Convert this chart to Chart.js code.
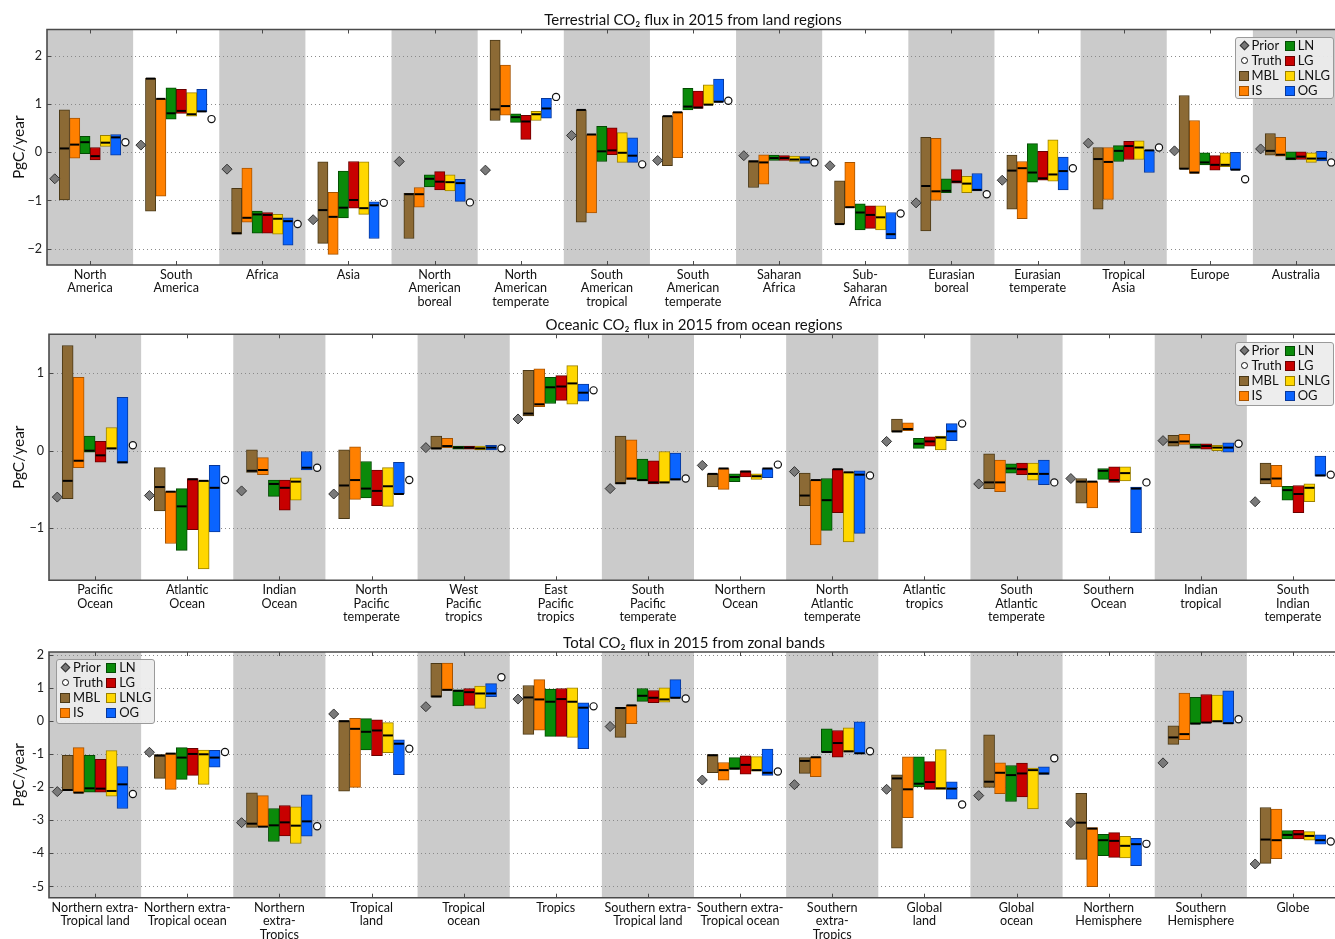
<!DOCTYPE html>
<html>
<head>
<meta charset="utf-8">
<script src="https://cdn.jsdelivr.net/npm/chart.js@4.4.0/dist/chart.umd.min.js"></script>
<style>
  html, body { margin: 0; padding: 0; width: 1335px; height: 939px; overflow: hidden; background: #fff; }
  body { position: relative; }
  .panel { position: absolute; left: 0; }
  .legend {
    position: absolute; box-sizing: border-box;
    background: rgba(236, 236, 236, 0.93); border: 1px solid #9a9a9a; border-radius: 3px;
    display: grid; grid-template-columns: auto auto; grid-auto-flow: column;
    grid-template-rows: repeat(4, 15px); column-gap: 3px; padding: 0 3px 0 3px;
    font-family: Lato, sans-serif; font-size: 13px; color: #111; line-height: 15px;
  }
  .legend .item { display: flex; align-items: center; white-space: nowrap; }
  .legend .mk { width: 10px; height: 10px; box-sizing: border-box; margin-right: 3px; flex: none; }
  .legend .dia { width: 7px; height: 7px; margin: 0 4px 0 2px; background: #777; border: 1px solid #333; transform: rotate(45deg); box-sizing: border-box; flex: none; }
  .legend .cir { width: 7px; height: 7px; margin: 0 4px 0 2px; background: #fff; border: 1.2px solid #111; border-radius: 50%; box-sizing: border-box; flex: none; }
</style>
</head>
<body>
<div class="panel" style="top:0px"><canvas id="landChart" width="1345" height="310"></canvas></div>
<div class="panel" style="top:310px"><canvas id="oceanChart" width="1345" height="317"></canvas></div>
<div class="panel" style="top:627px"><canvas id="zonalChart" width="1345" height="312"></canvas></div>

<script>
// ---------------- Terrestrial (land regions) ----------------
const landRegions = [
  ['North', 'America'], ['South', 'America'], ['Africa'], ['Asia'],
  ['North', 'American', 'boreal'], ['North', 'American', 'temperate'],
  ['South', 'American', 'tropical'], ['South', 'American', 'temperate'],
  ['Saharan', 'Africa'], ['Sub-', 'Saharan', 'Africa'],
  ['Eurasian', 'boreal'], ['Eurasian', 'temperate'], ['Tropical', 'Asia'],
  ['Europe'], ['Australia']
];
const landPrior = [-0.55, 0.15, -0.35, -1.40, -0.19, -0.37, 0.35, -0.17, -0.07, -0.28, -1.05, -0.58, 0.19, 0.03, 0.07];
const landTruth = [0.21, 0.69, -1.49, -1.05, -1.04, 1.15, -0.25, 1.07, -0.21, -1.27, -0.87, -0.33, 0.10, -0.56, -0.21];
// each entry: [minimum, maximum, mean]
const landMBL = [[-0.99, 0.88, 0.08], [-1.22, 1.54, 1.53], [-1.70, -0.75, -1.68], [-1.89, -0.20, -1.20], [-1.79, -0.85, -0.87],
  [0.66, 2.33, 0.89], [-1.45, 0.88, 0.88], [-0.28, 0.75, 0.75], [-0.73, -0.17, -0.19], [-1.49, -0.59, -1.49],
  [-1.63, 0.31, -0.70], [-1.18, -0.06, -0.38], [-1.18, 0.10, -0.14], [-0.35, 1.18, -0.34], [-0.06, 0.39, 0.03]];
const landIS = [[-0.12, 0.71, 0.16], [-0.91, 1.11, 1.11], [-1.45, -0.33, -1.36], [-2.12, -0.83, -1.34], [-1.14, -0.73, -0.87],
  [0.77, 1.81, 0.96], [-1.26, 0.37, 0.37], [-0.11, 0.83, 0.83], [-0.66, -0.05, -0.21], [-1.15, -0.21, -1.14],
  [-1.00, 0.29, -0.81], [-1.38, -0.19, -0.33], [-0.98, 0.10, -0.20], [-0.44, 0.66, -0.42], [-0.08, 0.31, -0.05]];
const landLN = [[-0.03, 0.33, 0.21], [0.69, 1.34, 0.81], [-1.68, -1.22, -1.29], [-1.36, -0.39, -1.15], [-0.72, -0.47, -0.55],
  [0.62, 0.80, 0.73], [-0.19, 0.54, 0.02], [0.88, 1.33, 0.95], [-0.17, -0.06, -0.12], [-1.61, -1.07, -1.25],
  [-0.84, -0.55, -0.80], [-0.62, 0.18, -0.42], [-0.19, 0.14, 0.03], [-0.26, -0.01, -0.21], [-0.16, 0.01, -0.13]];
const landLG = [[-0.16, 0.10, -0.08], [0.81, 1.31, 0.86], [-1.68, -1.25, -1.30], [-1.16, -0.19, -0.99], [-0.78, -0.40, -0.61],
  [0.27, 0.77, 0.64], [-0.05, 0.51, 0.04], [0.91, 1.27, 0.93], [-0.17, -0.07, -0.12], [-1.58, -1.11, -1.30],
  [-0.64, -0.36, -0.61], [-0.58, 0.02, -0.54], [-0.15, 0.23, 0.13], [-0.37, -0.07, -0.26], [-0.15, 0.01, -0.09]];
const landLNLG = [[0.12, 0.35, 0.20], [0.75, 1.24, 0.79], [-1.70, -1.29, -1.38], [-1.29, -0.20, -1.16], [-0.80, -0.47, -0.62],
  [0.66, 0.85, 0.79], [-0.21, 0.41, -0.01], [0.98, 1.40, 0.99], [-0.19, -0.08, -0.15], [-1.61, -1.11, -1.35],
  [-0.84, -0.50, -0.65], [-0.60, 0.26, -0.46], [-0.15, 0.24, 0.10], [-0.30, -0.01, -0.26], [-0.21, -0.01, -0.13]];
const landOG = [[-0.06, 0.37, 0.31], [0.84, 1.31, 0.85], [-1.93, -1.36, -1.43], [-1.79, -1.03, -1.10], [-1.02, -0.56, -0.64],
  [0.71, 1.12, 0.91], [-0.21, 0.30, -0.07], [1.04, 1.52, 1.05], [-0.23, -0.09, -0.15], [-1.80, -1.25, -1.70],
  [-0.80, -0.44, -0.78], [-0.78, -0.10, -0.39], [-0.42, 0.04, 0.04], [-0.37, 0.00, -0.36], [-0.18, 0.02, -0.13]];
const landTicks = [-2, -1, 0, 1, 2];

// ---------------- Oceanic (ocean regions) ----------------
const oceanRegions = [
  ['Pacific', 'Ocean'], ['Atlantic', 'Ocean'], ['Indian', 'Ocean'], ['North', 'Pacific', 'temperate'],
  ['West', 'Pacific', 'tropics'], ['East', 'Pacific', 'tropics'], ['South', 'Pacific', 'temperate'],
  ['Northern', 'Ocean'], ['North', 'Atlantic', 'temperate'], ['Atlantic', 'tropics'],
  ['South', 'Atlantic', 'temperate'], ['Southern', 'Ocean'], ['Indian', 'tropical'], ['South', 'Indian', 'temperate']
];
const oceanPrior = [-0.60, -0.58, -0.52, -0.56, 0.04, 0.41, -0.49, -0.19, -0.27, 0.12, -0.43, -0.36, 0.13, -0.66];
const oceanTruth = [0.07, -0.38, -0.22, -0.38, 0.03, 0.78, -0.36, -0.18, -0.32, 0.35, -0.41, -0.41, 0.09, -0.31];
const oceanMBL = [[-0.62, 1.36, -0.39], [-0.78, -0.22, -0.47], [-0.28, 0.01, -0.26], [-0.88, 0.01, -0.45], [0.02, 0.19, 0.03],
  [0.45, 1.04, 0.48], [-0.43, 0.19, -0.42], [-0.47, -0.30, -0.30], [-0.71, -0.29, -0.58], [0.24, 0.41, 0.25],
  [-0.49, -0.04, -0.41], [-0.68, -0.36, -0.40], [0.06, 0.20, 0.11], [-0.43, -0.16, -0.37]];
const oceanIS = [[-0.22, 0.95, -0.13], [-1.20, -0.53, -0.53], [-0.31, -0.09, -0.25], [-0.63, 0.05, -0.38], [0.04, 0.16, 0.06],
  [0.57, 1.06, 0.60], [-0.37, 0.14, -0.36], [-0.50, -0.23, -0.23], [-1.22, -0.38, -0.38], [0.26, 0.36, 0.28],
  [-0.53, -0.12, -0.41], [-0.74, -0.40, -0.40], [0.08, 0.21, 0.12], [-0.47, -0.19, -0.36]];
const oceanLN = [[-0.02, 0.19, 0.00], [-1.29, -0.49, -0.72], [-0.59, -0.38, -0.43], [-0.61, -0.14, -0.49], [0.02, 0.06, 0.04],
  [0.61, 0.95, 0.82], [-0.39, -0.11, -0.38], [-0.40, -0.30, -0.34], [-1.03, -0.36, -0.64], [0.03, 0.16, 0.09],
  [-0.29, -0.17, -0.23], [-0.37, -0.23, -0.26], [0.03, 0.09, 0.05], [-0.64, -0.46, -0.51]];
const oceanLG = [[-0.15, 0.12, -0.06], [-1.02, -0.36, -0.37], [-0.77, -0.38, -0.48], [-0.71, -0.25, -0.52], [0.02, 0.06, 0.04],
  [0.65, 0.97, 0.83], [-0.43, -0.13, -0.41], [-0.34, -0.26, -0.27], [-0.80, -0.24, -0.24], [0.06, 0.18, 0.12],
  [-0.31, -0.16, -0.24], [-0.41, -0.21, -0.38], [0.02, 0.09, 0.06], [-0.80, -0.45, -0.56]];
const oceanLNLG = [[0.02, 0.30, 0.03], [-1.53, -0.39, -0.39], [-0.64, -0.35, -0.40], [-0.72, -0.22, -0.46], [0.01, 0.06, 0.03],
  [0.60, 1.10, 0.87], [-0.42, -0.01, -0.41], [-0.37, -0.30, -0.33], [-1.18, -0.28, -0.28], [0.01, 0.19, 0.17],
  [-0.38, -0.16, -0.30], [-0.39, -0.21, -0.29], [0.00, 0.07, 0.04], [-0.66, -0.43, -0.48]];
const oceanOG = [[-0.16, 0.69, -0.15], [-1.05, -0.19, -0.48], [-0.25, -0.01, -0.22], [-0.56, -0.15, -0.56], [0.01, 0.07, 0.04],
  [0.64, 0.86, 0.75], [-0.38, -0.03, -0.37], [-0.35, -0.23, -0.23], [-1.07, -0.26, -0.31], [0.13, 0.35, 0.25],
  [-0.44, -0.12, -0.30], [-1.06, -0.47, -0.49], [-0.02, 0.10, 0.04], [-0.33, -0.07, -0.32]];
const oceanTicks = [-1, 0, 1];

// ---------------- Total (zonal bands) ----------------
const zonalBands = [
  ['Northern extra-', 'Tropical land'], ['Northern extra-', 'Tropical ocean'], ['Northern', 'extra-', 'Tropics'],
  ['Tropical', 'land'], ['Tropical', 'ocean'], ['Tropics'],
  ['Southern extra-', 'Tropical land'], ['Southern extra-', 'Tropical ocean'], ['Southern', 'extra-', 'Tropics'],
  ['Global', 'land'], ['Global', 'ocean'], ['Northern', 'Hemisphere'], ['Southern', 'Hemisphere'], ['Globe']
];
const zonalPrior = [-2.13, -0.94, -3.07, 0.22, 0.44, 0.67, -0.16, -1.78, -1.92, -2.06, -2.25, -3.07, -1.26, -4.32];
const zonalTruth = [-2.20, -0.93, -3.18, -0.83, 1.33, 0.45, 0.69, -1.52, -0.91, -2.52, -1.12, -3.71, 0.06, -3.64];
const zonalMBL = [[-2.10, -1.03, -2.08], [-1.73, -1.01, -1.04], [-3.21, -2.17, -3.10], [-2.12, 0.02, 0.00], [0.73, 1.75, 0.75],
  [-0.40, 1.08, 0.72], [-0.49, 0.42, 0.40], [-1.56, -1.01, -1.03], [-1.58, -1.10, -1.20], [-3.84, -1.62, -1.73],
  [-2.00, -0.41, -1.83], [-4.18, -2.18, -3.07], [-0.70, -0.14, -0.49], [-4.30, -2.61, -3.58]];
const zonalIS = [[-2.18, -0.80, -2.16], [-2.06, -0.98, -0.98], [-3.20, -2.25, -3.19], [-2.00, 0.09, -0.23], [0.93, 1.76, 0.95],
  [-0.27, 1.26, 0.66], [-0.07, 0.48, 0.48], [-1.78, -1.25, -1.48], [-1.68, -1.09, -1.09], [-2.92, -1.08, -2.06],
  [-2.19, -1.26, -1.56], [-5.01, -3.22, -3.25], [-0.56, 0.85, -0.39], [-4.16, -2.66, -3.60]];
const zonalLN = [[-2.15, -1.03, -2.03], [-1.76, -0.80, -1.10], [-3.64, -2.64, -3.15], [-0.87, 0.08, -0.32], [0.46, 0.95, 0.92],
  [-0.46, 0.97, 0.59], [0.60, 0.99, 0.77], [-1.46, -1.10, -1.43], [-0.94, -0.23, -0.93], [-1.99, -1.08, -1.89],
  [-2.43, -1.34, -1.63], [-4.07, -3.42, -3.60], [-0.09, 0.72, -0.07], [-3.56, -3.31, -3.44]];
const zonalLG = [[-2.15, -1.15, -2.04], [-1.64, -0.82, -0.99], [-3.47, -2.55, -3.06], [-1.04, 0.04, -0.28], [0.48, 0.99, 0.88],
  [-0.46, 0.99, 0.67], [0.56, 0.93, 0.71], [-1.60, -1.05, -1.32], [-1.09, -0.28, -0.66], [-2.06, -1.22, -1.84],
  [-2.29, -1.27, -1.58], [-4.12, -3.37, -3.62], [-0.05, 0.81, -0.04], [-3.56, -3.30, -3.42]];
const zonalLNLG = [[-2.27, -0.89, -2.11], [-1.91, -0.87, -1.00], [-3.70, -2.59, -3.16], [-0.95, -0.04, -0.43], [0.39, 1.06, 0.84],
  [-0.49, 1.01, 0.59], [0.58, 1.01, 0.66], [-1.51, -1.07, -1.48], [-0.93, -0.20, -0.91], [-2.06, -0.86, -2.03],
  [-2.65, -1.42, -1.48], [-4.14, -3.48, -3.77], [-0.02, 0.79, 0.00], [-3.60, -3.34, -3.47]];
const zonalOG = [[-2.64, -1.37, -1.91], [-1.39, -0.88, -1.10], [-3.48, -2.23, -3.03], [-1.62, -0.56, -0.68], [0.74, 1.14, 0.84],
  [-0.83, 0.56, 0.41], [0.70, 1.26, 0.71], [-1.64, -0.84, -1.56], [-0.99, -0.02, -0.97], [-2.36, -1.83, -2.04],
  [-1.61, -1.38, -1.58], [-4.37, -3.54, -3.72], [-0.07, 0.92, -0.06], [-3.72, -3.44, -3.60]];
const zonalTicks = [-5, -4, -3, -2, -1, 0, 1, 2];

// ---------------- styling ----------------
const seriesNames = ['MBL', 'IS', 'LN', 'LG', 'LNLG', 'OG'];
const seriesFill = ['#8c6a35', '#ff8000', '#0a8a0a', '#c80000', '#ffd700', '#0a64ff'];
const seriesEdge = ['#4a3816', '#a65300', '#034a03', '#6a0000', '#9a8000', '#08389a'];
const FONT = 'Lato, "Open Sans", sans-serif';
const GROUP_SPAN = 0.714;          // fraction of a region column taken by the six bars
const SLOT = GROUP_SPAN / 6;       // one bar slot, in region units

// shaded columns, dotted grid, mean markers, axes frame and tick marks
const panelDeco = {
  id: 'panelDeco',
  beforeDatasetsDraw(chart) {
    const { ctx, chartArea: a, scales } = chart;
    const x = scales.x, y = scales.y;
    const n = chart.data.labels.length;
    const w = (a.right - a.left) / n;
    ctx.save();
    ctx.fillStyle = '#cbcbcb';
    for (let i = 0; i < n; i += 2) {
      ctx.fillRect(x.getPixelForValue(i) - w / 2, a.top, w, a.bottom - a.top);
    }
    ctx.strokeStyle = '#8a8a8a';
    ctx.lineWidth = 1;
    ctx.setLineDash([1, 3]);
    y.ticks.forEach(t => {
      const py = Math.round(y.getPixelForValue(t.value)) + 0.5;
      ctx.beginPath(); ctx.moveTo(a.left, py); ctx.lineTo(a.right, py); ctx.stroke();
    });
    ctx.restore();
  },
  afterDatasetsDraw(chart) {
    const { ctx, scales: { y } } = chart;
    ctx.save();
    ctx.strokeStyle = '#000';
    ctx.lineWidth = 2;
    chart.data.datasets.forEach((ds, di) => {
      if (!ds.means) return;
      const meta = chart.getDatasetMeta(di);
      meta.data.forEach((bar, i) => {
        const py = y.getPixelForValue(ds.means[i]);
        ctx.beginPath();
        ctx.moveTo(bar.x - bar.width / 2 + 0.5, py);
        ctx.lineTo(bar.x + bar.width / 2 - 0.5, py);
        ctx.stroke();
      });
    });
    ctx.restore();
  },
  afterDraw(chart) {
    const { ctx, chartArea: a, scales: { x, y } } = chart;
    const n = chart.data.labels.length;
    ctx.save();
    ctx.strokeStyle = '#4a4a4a';
    ctx.lineWidth = 1;
    for (let i = 0; i < n; i++) {
      const px = Math.round(x.getPixelForValue(i)) + 0.5;
      ctx.beginPath(); ctx.moveTo(px, a.top); ctx.lineTo(px, a.top + 4); ctx.stroke();
      ctx.beginPath(); ctx.moveTo(px, a.bottom); ctx.lineTo(px, a.bottom - 4); ctx.stroke();
    }
    y.ticks.forEach(t => {
      const py = Math.round(y.getPixelForValue(t.value)) + 0.5;
      ctx.beginPath(); ctx.moveTo(a.left, py); ctx.lineTo(a.left + 4, py); ctx.stroke();
    });
    ctx.lineWidth = 1.6;
    ctx.beginPath();
    ctx.moveTo(a.right + 5, a.top); ctx.lineTo(a.left, a.top); ctx.lineTo(a.left, a.bottom); ctx.lineTo(a.right + 5, a.bottom);
    ctx.stroke();
    ctx.restore();
  }
};

function buildPanel(p) {
  const n = p.labels.length;
  const bars = p.series.map((s, k) => ({
    type: 'bar',
    label: seriesNames[k],
    data: s.map((r, i) => ({ x: i + (k - 2.5) * SLOT, y: [r[0], r[1]] })),
    means: s.map(r => r[2]),
    backgroundColor: seriesFill[k],
    borderColor: seriesEdge[k],
    borderWidth: 1,
    borderSkipped: false,
    grouped: false,
    categoryPercentage: 1.0,
    barPercentage: 1.0,
    xAxisID: 'xl', yAxisID: 'y', order: 2
  }));
  const priorPts = {
    type: 'scatter', label: 'Prior', xAxisID: 'xl', yAxisID: 'y', order: 1,
    data: p.prior.map((v, i) => ({ x: i - 0.41, y: v })),
    pointStyle: 'rectRot', pointRadius: 5, backgroundColor: '#7a7a7a', borderColor: '#333', borderWidth: 1
  };
  const truthPts = {
    type: 'scatter', label: 'Truth', xAxisID: 'xl', yAxisID: 'y', order: 1,
    data: p.truth.map((v, i) => ({ x: i + 0.41, y: v })),
    pointStyle: 'circle', pointRadius: 3.6, backgroundColor: '#fff', borderColor: '#111', borderWidth: 1.2
  };
  const minus = p.minus;
  return new Chart(document.getElementById(p.canvas), {
    type: 'bar',
    data: { labels: p.labels, datasets: [...bars, priorPts, truthPts] },
    options: {
      responsive: false, animation: false, events: [],
      layout: { padding: { left: 0, right: 2, top: 0, bottom: 0 } },
      plugins: {
        legend: { display: false },
        tooltip: { enabled: false },
        title: {
          display: true, text: p.title, fullSize: false, color: '#111',
          font: { family: FONT, size: 15, weight: 'normal', lineHeight: 1.2 },
          padding: { top: p.titlePad, bottom: 0 }
        }
      },
      scales: {
        x: {
          type: 'category', offset: true,
          grid: { display: false, drawTicks: false }, border: { display: false },
          ticks: { autoSkip: false, maxRotation: 0, minRotation: 0, padding: 3, color: '#111',
                   font: { family: FONT, size: 12.6, lineHeight: 1.08 } },
          afterFit: s => { s.height = p.xAxisH; }
        },
        xl: { type: 'linear', display: false, min: -0.5, max: n - 0.5, offset: false },
        y: {
          type: 'linear', min: p.yMin, max: p.yMax,
          grid: { display: false, drawTicks: false }, border: { display: false },
          ticks: { padding: 5, color: '#222', font: { family: FONT, size: 12.6 },
                   callback: v => (v < 0 ? minus + Math.abs(v) : String(v)) },
          afterBuildTicks: s => { s.ticks = p.yTicks.map(v => ({ value: v })); },
          afterFit: s => { s.width = p.plotLeft; },
          title: { display: true, text: 'PgC/year', color: '#111',
                   font: { family: FONT, size: 15.5 }, padding: { top: 10, bottom: 0 } }
        }
      }
    },
    plugins: [panelDeco]
  });
}

function buildLegend(pos) {
  const box = document.createElement('div');
  box.className = 'legend';
  Object.assign(box.style, pos);
  const rows = [['dia', 'Prior'], ['cir', 'Truth'],
    ...seriesNames.map((nm, k) => ['sq' + k, nm])];
  rows.forEach(([kind, text]) => {
    const it = document.createElement('div');
    it.className = 'item';
    const mk = document.createElement('span');
    if (kind === 'dia' || kind === 'cir') mk.className = kind;
    else {
      const k = +kind.slice(2);
      mk.className = 'mk';
      mk.style.background = seriesFill[k];
      mk.style.border = '1px solid ' + seriesEdge[k];
    }
    it.appendChild(mk);
    it.appendChild(document.createTextNode(text));
    box.appendChild(it);
  });
  document.body.appendChild(box);
}

buildPanel({
  canvas: 'landChart', labels: landRegions, prior: landPrior, truth: landTruth,
  series: [landMBL, landIS, landLN, landLG, landLNLG, landOG], yTicks: landTicks,
  title: 'Terrestrial CO\u2082 flux in 2015 from land regions',
  yMin: -2.34, yMax: 2.55, plotLeft: 47, titlePad: 11.5, xAxisH: 45, minus: '\u2212'
});
buildPanel({
  canvas: 'oceanChart', labels: oceanRegions, prior: oceanPrior, truth: oceanTruth,
  series: [oceanMBL, oceanIS, oceanLN, oceanLG, oceanLNLG, oceanOG], yTicks: oceanTicks,
  title: 'Oceanic CO\u2082 flux in 2015 from ocean regions',
  yMin: -1.676, yMax: 1.505, plotLeft: 49, titlePad: 6.3, xAxisH: 46.7, minus: '\u2212'
});
buildPanel({
  canvas: 'zonalChart', labels: zonalBands, prior: zonalPrior, truth: zonalTruth,
  series: [zonalMBL, zonalIS, zonalLN, zonalLG, zonalLNLG, zonalOG], yTicks: zonalTicks,
  title: 'Total CO\u2082 flux in 2015 from zonal bands',
  yMin: -5.34, yMax: 2.095, plotLeft: 49, titlePad: 7.0, xAxisH: 41.3, minus: '-'
});

buildLegend({ right: '1px', top: '37px', height: '62px' });
buildLegend({ right: '1px', top: '342px', height: '64px' });
buildLegend({ left: '56px', top: '659px', height: '65px' });
</script>
</body>
</html>
